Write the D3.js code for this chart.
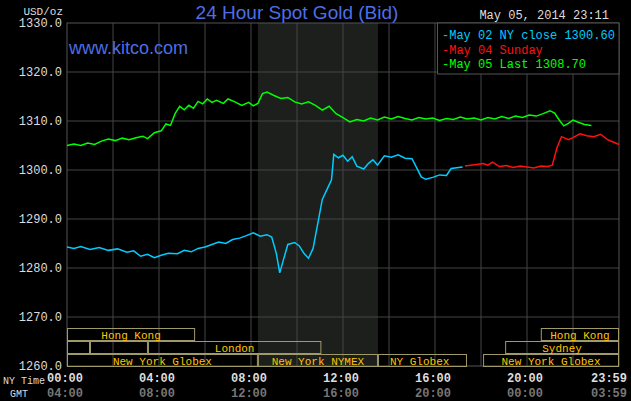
<!DOCTYPE html>
<html><head><meta charset="utf-8">
<script src="https://cdn.jsdelivr.net/npm/d3@7"></script>
<style>body{margin:0;background:#000;}svg{display:block;}</style>
</head><body>
<script>
const yTicks=[1260,1270,1280,1290,1300,1310,1320,1330];
const nyLabels=["00:00","04:00","08:00","12:00","16:00","20:00","23:59"];
const gmtLabels=["04:00","08:00","12:00","16:00","20:00","00:00","03:59"];
const tickHours=[0,4,8,12,16,20,24];
// [hour, price]
const mayClose=[[0,1284.3],[0.3,1284],[0.6,1284.4],[1,1283.8],[1.4,1284.2],[1.8,1283.6],[2.2,1283.9],[2.6,1283.2],[2.9,1283.5],[3.2,1282.4],[3.5,1282.8],[3.8,1282.1],[4.1,1282.6],[4.4,1283],[4.8,1282.9],[5.1,1283.6],[5.4,1283.3],[5.7,1284],[6,1284.3],[6.3,1284.8],[6.6,1285.3],[6.9,1285],[7.2,1285.8],[7.5,1286.1],[7.8,1286.6],[8.1,1287.2],[8.4,1286.5],[8.7,1286.8],[8.9,1286.3],[9.1,1283],[9.25,1279],[9.4,1281.5],[9.6,1284.8],[9.9,1285.2],[10.1,1284.5],[10.3,1283],[10.5,1282],[10.7,1284],[10.9,1289],[11.1,1294],[11.3,1296],[11.5,1298],[11.6,1303.2],[11.8,1302.5],[12,1303],[12.2,1301.8],[12.4,1302.7],[12.6,1300.8],[12.9,1300.2],[13.1,1301.3],[13.3,1302.1],[13.5,1301],[13.8,1302.9],[14.1,1302.6],[14.4,1303.1],[14.7,1302.4],[15,1302.3],[15.2,1300.5],[15.4,1298.6],[15.6,1298.1],[15.9,1298.5],[16.2,1299],[16.5,1298.9],[16.7,1300.3],[17.2,1300.6]];
const maySunday=[[17.3,1300.8],[17.8,1301.1],[18.1,1301.3],[18.3,1301],[18.5,1301.6],[18.8,1300.7],[19.1,1300.9],[19.4,1300.5],[19.7,1300.8],[20,1300.6],[20.3,1300.4],[20.6,1300.8],[20.9,1300.7],[21.1,1301],[21.3,1304.5],[21.5,1306.8],[21.8,1306.2],[22,1306.6],[22.3,1307.4],[22.6,1307],[22.9,1306.8],[23.2,1307.3],[23.5,1306.2],[23.8,1305.6],[24,1305.2]];
const mayLast=[[0,1305],[0.3,1305.3],[0.6,1305],[0.9,1305.5],[1.2,1305.2],[1.5,1305.9],[1.8,1306.3],[2.1,1306],[2.4,1306.5],[2.7,1306.2],[3,1306.6],[3.3,1306.9],[3.5,1306.4],[3.8,1307.6],[4.1,1308],[4.3,1309.4],[4.5,1309.1],[4.7,1311.5],[4.9,1313],[5.1,1312.3],[5.3,1313.2],[5.5,1312.6],[5.7,1314],[5.9,1313.5],[6.1,1314.5],[6.3,1313.8],[6.5,1314.2],[6.8,1313.6],[7,1314.5],[7.3,1313.9],[7.6,1313.2],[7.9,1313.8],[8.1,1313.1],[8.3,1313.6],[8.5,1315.6],[8.7,1315.9],[9,1315.2],[9.3,1314.6],[9.6,1314.8],[9.9,1313.9],[10.2,1313.5],[10.5,1313.9],[10.8,1313.2],[11.1,1312.2],[11.4,1313],[11.7,1311.5],[12,1310.7],[12.3,1309.8],[12.6,1310.3],[12.9,1310],[13.2,1310.6],[13.5,1310.2],[13.8,1310.8],[14.1,1310.4],[14.4,1310.9],[14.7,1310.5],[15,1310.2],[15.3,1310.7],[15.6,1310.4],[15.9,1310.6],[16.2,1310.1],[16.5,1310.5],[16.8,1310.3],[17.1,1310.8],[17.4,1310.4],[17.7,1310.6],[18,1310.2],[18.3,1310.7],[18.6,1310.4],[18.9,1310.9],[19.2,1310.5],[19.5,1311],[19.8,1310.7],[20.1,1311.2],[20.4,1311],[20.7,1311.5],[21,1312.1],[21.2,1311.6],[21.4,1310.2],[21.6,1309],[21.8,1309.5],[22,1310.2],[22.2,1309.8],[22.5,1309.3],[22.8,1309.1]];
// session boxes: [row, startHour, endHour, label]
const sessions=[[0,0,5.57,"Hong Kong"],[0,20.6,24,"Hong Kong"],[1,0,1,""],[1,1,3.52,""],[1,3.52,11.06,"London"],[1,19.05,24,"Sydney"],[2,0,8.3,"New York Globex"],[2,8.3,13.52,"New York NYMEX"],[2,13.52,17.39,"NY Globex"],[2,18.09,24,"New York Globex"]];
const legendItems=[["May 02 NY close 1300.60","#00ccff"],["May 04 Sunday","#ff1010"],["May 05 Last 1308.70","#00ff00"]];

const W=631,H=401,L=67,R=619,T=23,B=366;
const svg=d3.select("body").append("svg").attr("width",W).attr("height",H).style("background","#000");
const x=d3.scaleLinear().domain([0,24]).range([L,R]);
const y=d3.scaleLinear().domain([1260,1330]).range([B,T]);
const mono="'Liberation Mono','DejaVu Sans Mono',monospace";
svg.append("rect").attr("x",x(8.3)).attr("y",T).attr("width",x(13.52)-x(8.3)).attr("height",B-T).attr("fill","#1c1f1c");
svg.selectAll(".vg").data(d3.range(2,24,2)).enter().append("line").attr("x1",d=>x(d)).attr("x2",d=>x(d)).attr("y1",T).attr("y2",B).attr("stroke","#444").attr("stroke-width",1);
svg.selectAll(".hg").data(yTicks.slice(1,-1)).enter().append("line").attr("x1",L).attr("x2",R).attr("y1",d=>y(d)).attr("y2",d=>y(d)).attr("stroke","#444");
svg.append("rect").attr("x",L).attr("y",T).attr("width",R-L).attr("height",B-T).attr("fill","none").attr("stroke","#555");
const rowTop=[328,341,354];
const sg=svg.selectAll(".s").data(sessions).enter().append("g");
sg.append("rect").attr("x",d=>x(d[1])+0.5).attr("y",d=>rowTop[d[0]]+0.5).attr("width",d=>x(d[2])-x(d[1])-1).attr("height",12).attr("fill","none").attr("stroke","#a09a68");
sg.append("text").attr("x",d=>d[3]=="NY Globex"?x(d[1])+12:(x(d[1])+x(d[2]))/2).attr("text-anchor",d=>d[3]=="NY Globex"?"start":"middle")
 .attr("y",d=>rowTop[d[0]]+10.5).attr("fill","#ffc400").attr("font-family",mono).attr("font-size",11).text(d=>d[3]);
const line=d3.line().x(d=>x(d[0])).y(d=>y(d[1]));
[[mayLast,"#00ff00"],[mayClose,"#00ccff"],[maySunday,"#ff1010"]].forEach(([d,c])=>svg.append("path").datum(d).attr("d",line).attr("fill","none").attr("stroke",c).attr("stroke-width",1.5));
svg.selectAll(".yl").data(yTicks).enter().append("text").attr("x",62).attr("y",d=>y(d)+4).attr("text-anchor","end").attr("fill","#ddd").attr("font-family",mono).attr("font-size",12).text(d=>d.toFixed(1));
svg.append("text").attr("x",63).attr("y",15).attr("text-anchor","end").attr("fill","#ddd").attr("font-family",mono).attr("font-size",11).text("USD/oz");
svg.selectAll(".xl").data(tickHours).enter().append("text").attr("x",(d,i)=>i==6?x(d)-10:x(d)-2).attr("y",382).attr("text-anchor","middle").attr("fill","#ddd").attr("font-family",mono).attr("font-size",12).attr("font-weight","bold").text((d,i)=>nyLabels[i]);
svg.selectAll(".gl").data(tickHours).enter().append("text").attr("x",(d,i)=>i==6?x(d)-10:x(d)-2).attr("y",397).attr("text-anchor","middle").attr("fill","#777").attr("font-family",mono).attr("font-size",12).attr("font-weight","bold").text((d,i)=>gmtLabels[i]);
svg.append("text").attr("x",3).attr("y",384).attr("fill","#ddd").attr("font-family",mono).attr("font-size",10).text("NY Time");
svg.append("text").attr("x",10).attr("y",397).attr("fill","#ddd").attr("font-family",mono).attr("font-size",10).text("GMT");
svg.append("text").attr("x",297).attr("y",19).attr("text-anchor","middle").attr("fill","#4d6ee6").attr("font-family","'Liberation Sans',Arial,sans-serif").attr("font-size",19).text("24 Hour Spot Gold (Bid)");
svg.append("text").attr("x",69).attr("y",54).attr("fill","#4d6ee6").attr("font-family","'Liberation Sans',Arial,sans-serif").attr("font-size",18).text("www.kitco.com");
svg.append("text").attr("x",609).attr("y",19).attr("text-anchor","end").attr("fill","#ddd").attr("font-family",mono).attr("font-size",12).text("May 05, 2014 23:11");
svg.append("rect").attr("x",437.5).attr("y",T).attr("width",R-437.5).attr("height",51).attr("fill","#000").attr("stroke","#555");
legendItems.forEach(([t,c],i)=>{
 svg.append("text").attr("x",442).attr("y",39+i*14.5).attr("fill",c).attr("font-family",mono).attr("font-size",12).text("-"+t);
});
</script>
</body></html>
